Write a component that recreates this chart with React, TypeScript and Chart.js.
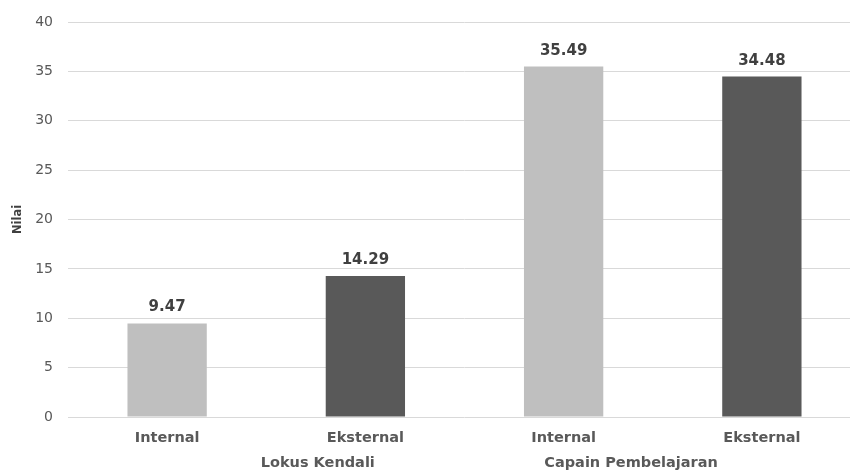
import React, { useEffect, useRef } from "react";
import { Chart, registerables } from "chart.js";

Chart.register(...registerables);

const categories = ["Internal", "Eksternal", "Internal", "Eksternal"];
const groups = ["Lokus Kendali", "Capain Pembelajaran"];
// position of each group label along the category axis (category index units)
const groupAt = [0.76, 2.34];
const values = [9.47, 14.29, 35.49, 34.48];
const barColors = ["#bfbfbf", "#595959", "#bfbfbf", "#595959"];
const yTicks = [0, 5, 10, 15, 20, 25, 30, 35, 40];

const FONT = "'DejaVu Sans', Verdana, sans-serif";

const labelPlugin = {
  id: "valueAndGroupLabels",
  afterDatasetsDraw(chart: any) {
    const ctx = chart.ctx;
    const meta = chart.getDatasetMeta(0);
    ctx.save();
    ctx.font = `bold 15px ${FONT}`;
    ctx.fillStyle = "#404040";
    ctx.textAlign = "center";
    ctx.textBaseline = "alphabetic";
    meta.data.forEach((bar: any, i: number) => {
      ctx.fillText(values[i].toFixed(2), bar.x, bar.y - 12);
    });
    const xs = chart.scales.x;
    ctx.font = `bold 14.5px ${FONT}`;
    ctx.fillStyle = "#595959";
    ctx.textBaseline = "middle";
    groups.forEach((g, gi) => {
      ctx.fillText(g, xs.getPixelForValue(groupAt[gi]), chart.chartArea.bottom + 46);
    });
    ctx.restore();
  },
};

export default function App() {
  const ref = useRef<HTMLCanvasElement>(null);
  useEffect(() => {
    document.body.style.margin = "0";
    document.body.style.overflow = "hidden";
    const chart = new Chart(ref.current!, {
      type: "bar",
      data: {
        labels: categories,
        datasets: [
          {
            data: values,
            backgroundColor: barColors,
            borderWidth: 0,
            barPercentage: 0.4,
            categoryPercentage: 1,
          },
        ],
      },
      options: {
        animation: false,
        responsive: true,
        maintainAspectRatio: false,
        layout: { padding: { top: 8, left: 0, right: 1, bottom: 0 } },
        plugins: { legend: { display: false }, tooltip: { enabled: false } },
        scales: {
          x: {
            grid: { display: false, drawTicks: false },
            border: { display: false },
            ticks: {
              color: "#595959",
              padding: 13,
              font: { family: FONT, size: 14.5, weight: "bold" },
            },
            afterFit: (s: any) => {
              s.height = 53;
            },
          },
          y: {
            min: 0,
            max: 40,
            afterBuildTicks: (s: any) => {
              s.ticks = yTicks.map((v) => ({ value: v }));
            },
            grid: { color: "#d9d9d9", lineWidth: 1, drawTicks: false },
            border: { display: false },
            ticks: {
              color: "#595959",
              padding: 15,
              font: { family: FONT, size: 14, lineHeight: 1 },
            },
            title: {
              display: true,
              text: "Nilai",
              color: "#404040",
              padding: { top: 11, bottom: 0 },
              font: { family: FONT, size: 11.5, weight: "bold" },
            },
            afterFit: (s: any) => {
              s.width = 68;
            },
          },
        },
      },
      plugins: [labelPlugin],
    });
    return () => chart.destroy();
  }, []);
  return (
    <div style={{ position: "absolute", left: 0, top: 0, width: 862, height: 470 }}>
      <canvas ref={ref} />
    </div>
  );
}
